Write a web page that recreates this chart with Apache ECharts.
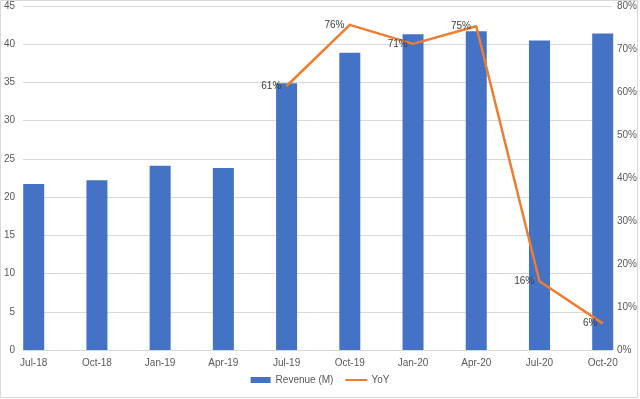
<!DOCTYPE html>
<html>
<head>
<meta charset="utf-8">
<script src="https://cdn.jsdelivr.net/npm/echarts@6/dist/echarts.min.js"></script>
<style>
  html, body { margin: 0; padding: 0; background: #fff; }
  #chart { width: 640px; height: 399px; }
</style>
</head>
<body>
<div id="chart"></div>
<script>
// 数据
var quarters = ['Jul-18', 'Oct-18', 'Jan-19', 'Apr-19', 'Jul-19', 'Oct-19', 'Jan-20', 'Apr-20', 'Jul-20', 'Oct-20'];
var revenue = [21.7, 22.2, 24.1, 23.8, 34.9, 38.9, 41.3, 41.7, 40.5, 41.4];
var yoy = [null, null, null, null, 61.4, 75.6, 71.2, 75.3, 16.0, 6.2];

var textColor = '#595959';
var font = 'Liberation Sans';

var chart = echarts.init(document.getElementById('chart'));

var option = {
  animation: false,
  textStyle: { fontFamily: font },
  // 外边框
  graphic: [{
    type: 'rect',
    shape: { x: 0.5, y: 0.5, width: 637, height: 397 },
    style: { fill: 'none', stroke: '#d9d9d9', lineWidth: 1 },
    silent: true
  }],
  // 两个网格：背景网格画刻度和网格线，数据网格画柱和线
  grid: [
    { left: 23, right: 27, top: 6, bottom: 49 },
    { left: 33.7, right: 37.3, top: 6, bottom: 49 }
  ],
  legend: {
    bottom: 9,
    left: 'center',
    itemWidth: 20,
    itemHeight: 6,
    itemGap: 12,
    textStyle: { color: textColor, fontSize: 10, fontFamily: font },
    data: [
      { name: 'Revenue (M)', icon: 'rect' },
      { name: 'YoY', icon: 'path://M0,0h20v0.001h-20z' }
    ]
  },
  xAxis: [
    {
      gridIndex: 0, type: 'value', min: 0, max: 1,
      axisLine: { show: true, onZero: false, lineStyle: { color: '#d9d9d9' } },
      axisTick: { show: false }, axisLabel: { show: false }, splitLine: { show: false }
    },
    {
      gridIndex: 1, type: 'category', boundaryGap: false, data: quarters,
      axisLine: { show: false }, axisTick: { show: false },
      axisLabel: { color: textColor, fontSize: 10, margin: 8, fontFamily: font }
    }
  ],
  yAxis: [
    {
      gridIndex: 0, type: 'value', min: 0, max: 45, interval: 5, position: 'left',
      axisLine: { show: false }, axisTick: { show: false },
      axisLabel: { color: textColor, fontSize: 10, margin: 8, fontFamily: font },
      splitLine: { lineStyle: { color: '#d9d9d9' } }
    },
    {
      gridIndex: 0, type: 'value', min: 0, max: 80, interval: 10, position: 'right',
      axisLine: { show: false }, axisTick: { show: false },
      axisLabel: { color: textColor, fontSize: 10, margin: 5, formatter: '{value}%', fontFamily: font },
      splitLine: { show: false }
    },
    { gridIndex: 1, type: 'value', min: 0, max: 45, show: false, splitLine: { show: false } },
    { gridIndex: 1, type: 'value', min: 0, max: 80, show: false, splitLine: { show: false } }
  ],
  series: [
    {
      name: 'Revenue (M)',
      type: 'bar',
      xAxisIndex: 1,
      yAxisIndex: 2,
      data: revenue,
      barWidth: 21,
      clip: false,
      itemStyle: { color: '#4472C4' }
    },
    {
      name: 'YoY',
      type: 'line',
      xAxisIndex: 1,
      yAxisIndex: 3,
      data: yoy,
      symbol: 'circle',
      symbolSize: 0.1,
      showSymbol: true,
      lineStyle: { color: '#ED7D31', width: 2.5 },
      itemStyle: { color: '#ED7D31', borderColor: '#ED7D31', borderWidth: 2.5 },
      label: {
        show: true,
        position: 'left',
        distance: 4,
        color: '#404040',
        fontSize: 10,
        fontFamily: font,
        formatter: function (p) { return Math.round(p.value) + '%'; }
      }
    }
  ]
};

chart.setOption(option);
</script>
</body>
</html>
